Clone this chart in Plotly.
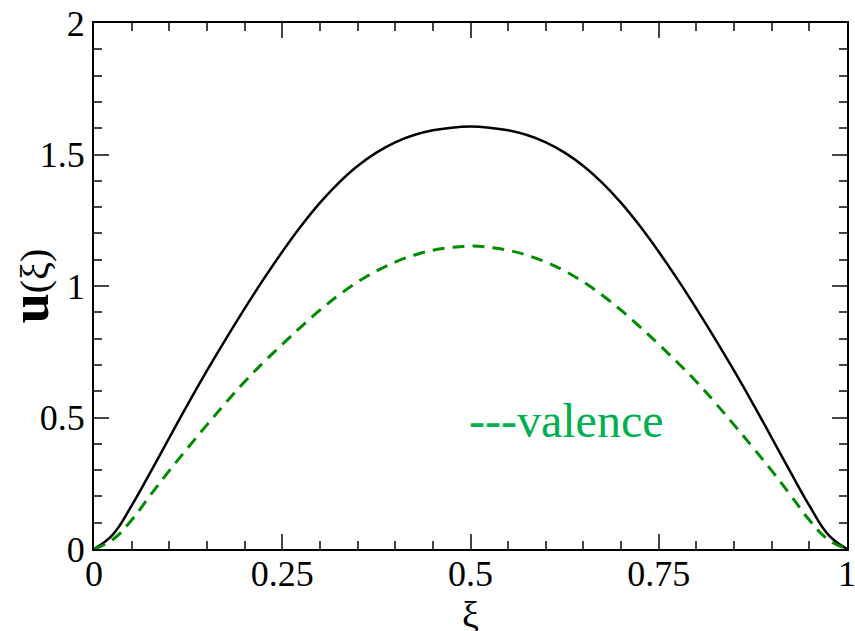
import plotly.graph_objects as go

# xi grid and curves
xi = [0, 0.025, 0.05, 0.075, 0.1, 0.125, 0.15, 0.175, 0.2, 0.225, 0.25,
      0.275, 0.3, 0.325, 0.35, 0.375, 0.4, 0.425, 0.45, 0.475, 0.5,
      0.525, 0.55, 0.575, 0.6, 0.625, 0.65, 0.675, 0.7, 0.725, 0.75,
      0.775, 0.8, 0.825, 0.85, 0.875, 0.9, 0.925, 0.95, 0.975, 1.0]

u_total = [0, 0.055, 0.165, 0.292, 0.423, 0.553, 0.678, 0.798, 0.914, 1.025, 1.13,
           1.228, 1.316, 1.392, 1.456, 1.507, 1.546, 1.574, 1.592, 1.602, 1.606,
           1.602, 1.592, 1.574, 1.546, 1.507, 1.456, 1.392, 1.316, 1.228, 1.13,
           1.025, 0.914, 0.798, 0.678, 0.553, 0.423, 0.292, 0.165, 0.055, 0]

u_valence = [0, 0.036, 0.11, 0.205, 0.298, 0.386, 0.472, 0.556, 0.636, 0.709, 0.778,
             0.845, 0.908, 0.965, 1.015, 1.057, 1.091, 1.117, 1.136, 1.147, 1.152,
             1.147, 1.136, 1.117, 1.091, 1.057, 1.015, 0.965, 0.908, 0.845, 0.778,
             0.709, 0.636, 0.556, 0.472, 0.386, 0.298, 0.205, 0.11, 0.036, 0]

x_ticks = [0, 0.25, 0.5, 0.75, 1]
x_labels = ["0", "0.25", "0.5", "0.75", "1"]
y_ticks = [0, 0.5, 1, 1.5, 2]
y_labels = ["0", "0.5", "1", "1.5", "2"]

serif = "Liberation Serif, Times New Roman, serif"

fig = go.Figure()

fig.add_trace(go.Scatter(
    x=xi, y=u_total, mode="lines",
    line=dict(color="black", width=2.5, shape="spline", smoothing=1.2), showlegend=False
))
fig.add_trace(go.Scatter(
    x=xi, y=u_valence, mode="lines",
    line=dict(color="rgb(0,140,0)", width=3, dash="12px,8px", shape="spline", smoothing=1.2),
    showlegend=False
))

fig.add_annotation(
    x=0.496, y=0.49, xref="x", yref="y", text="---valence",
    showarrow=False, xanchor="left", yanchor="middle",
    font=dict(family=serif, size=48, color="rgb(0,176,80)")
)
# x-axis title placed by hand, just under the tick labels
fig.add_annotation(
    x=0.5, y=-0.081, xref="paper", yref="paper", text="ξ",
    showarrow=False, xanchor="center", yanchor="top",
    font=dict(family=serif, size=38, color="black")
)

axis_common = dict(
    showgrid=False, zeroline=False, showline=True, linecolor="black",
    linewidth=2, mirror="ticks", ticks="inside", ticklen=15, tickwidth=2,
    tickcolor="#444", automargin=False, ticklabeloverflow="allow",
    tickfont=dict(family=serif, size=36, color="black"),
)

fig.update_xaxes(
    range=[0, 1], tickvals=x_ticks, ticktext=x_labels, ticklabelstandoff=-8,
    minor=dict(dtick=0.05, ticks="inside", ticklen=8, tickwidth=2, tickcolor="#444"),
    **axis_common
)
fig.update_yaxes(
    range=[0, 2], tickvals=y_ticks, ticktext=y_labels,
    minor=dict(dtick=0.1, ticks="inside", ticklen=8, tickwidth=2, tickcolor="#444"),
    title=dict(text="<span style='font-size:54px'><b>u</b></span>(ξ)",
               font=dict(family=serif, size=40, color="black"), standoff=8),
    **axis_common
)

fig.update_layout(
    width=855, height=631,
    margin=dict(l=94, r=8, t=23, b=82),
    paper_bgcolor="white", plot_bgcolor="white",
)

# drop the page's default body margin so the figure sits at the window corner
fig.write_html("out.html", config={"displayModeBar": False},
               post_script="document.body.style.margin='0';")
